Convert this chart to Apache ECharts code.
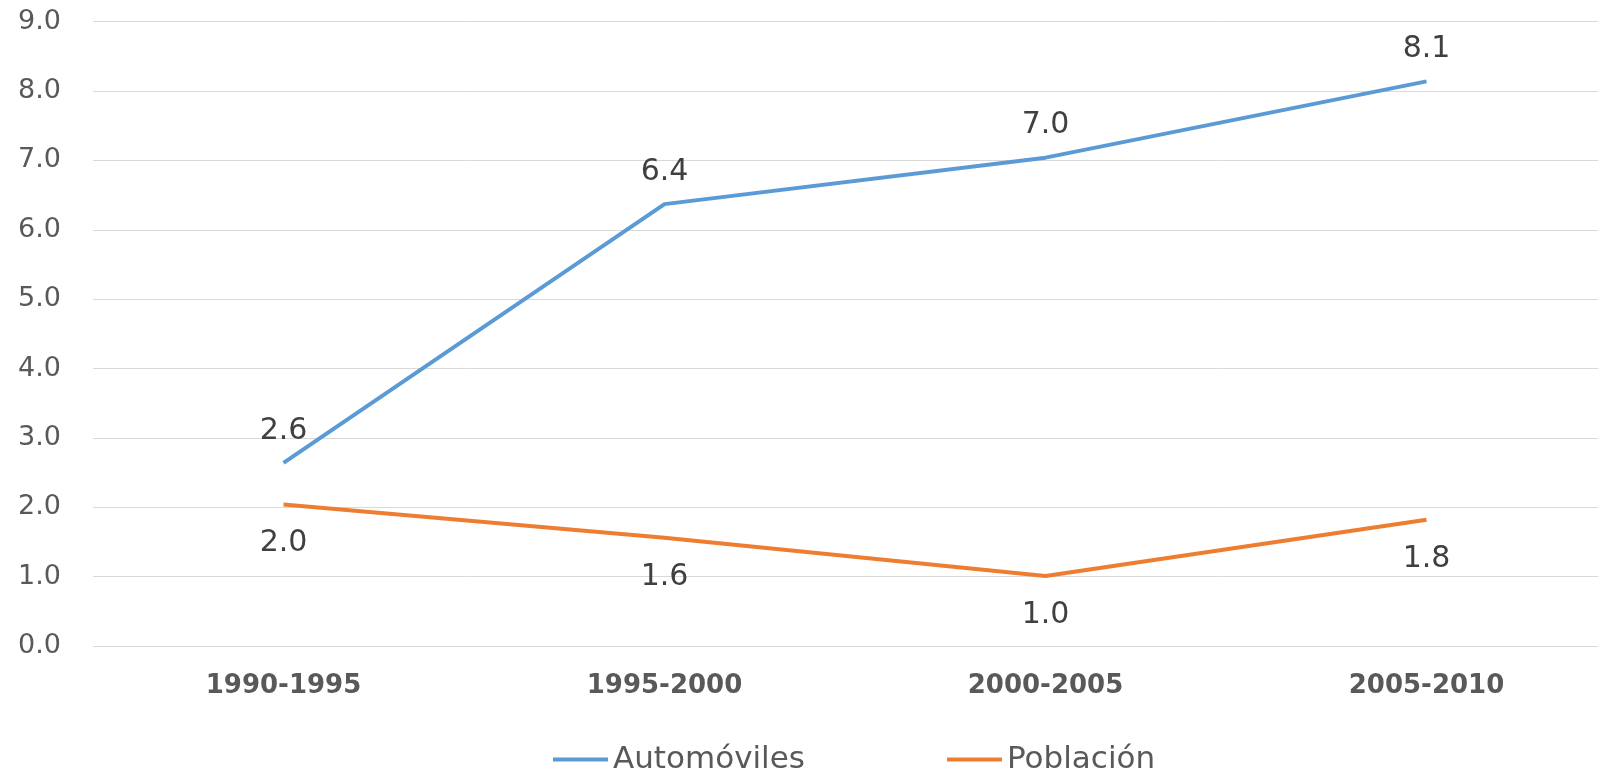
<!DOCTYPE html>
<html>
<head>
<meta charset="utf-8">
<script src="https://cdn.jsdelivr.net/npm/echarts@6/dist/echarts.min.js"></script>
<style>html,body{margin:0;padding:0;background:#fff;}#c{width:1598px;height:772px;}</style>
</head>
<body>
<div id="c"></div>
<script>
const categories = ['1990-1995', '1995-2000', '2000-2005', '2005-2010'];
const automoviles = [2.64, 6.37, 7.04, 8.14];
const poblacion = [2.04, 1.56, 1.01, 1.82];
const seriesNames = ['Automóviles', 'Población'];

const chart = echarts.init(document.getElementById('c'));
const fmt = p => p.value.toFixed(1);
const legendBase = {
  top: 739,
  itemWidth: 55, itemHeight: 4,
  icon: 'rect',
  textStyle: { fontFamily: 'DejaVu Sans', fontSize: 31, color: '#595959' }
};
chart.setOption({
  animation: false,
  backgroundColor: '#fff',
  grid: { left: 93, top: 21.7, width: 1524, height: 624.3, outerBoundsMode: 'none', containLabel: false },
  legend: [
    Object.assign({}, legendBase, { left: 548, data: [seriesNames[0]] }),
    Object.assign({}, legendBase, { left: 942, data: [seriesNames[1]] })
  ],
  xAxis: {
    type: 'category',
    data: categories,
    boundaryGap: true,
    axisLine: { show: false },
    axisTick: { show: false },
    axisLabel: { margin: 27, fontFamily: 'DejaVu Sans', fontWeight: 'bold', fontSize: 26, color: '#595959' }
  },
  yAxis: {
    type: 'value', min: 0, max: 9, interval: 1,
    axisLine: { show: false }, axisTick: { show: false },
    splitLine: { lineStyle: { color: '#d9d9d9', width: 1 } },
    axisLabel: { margin: 32, fontFamily: 'DejaVu Sans', fontSize: 27, color: '#595959', formatter: v => v.toFixed(1) }
  },
  series: [
    {
      name: seriesNames[0], type: 'line', data: automoviles,
      symbol: 'circle', symbolSize: 0, showSymbol: true,
      lineStyle: { color: '#5B9BD5', width: 4 },
      itemStyle: { color: '#5B9BD5' },
      label: { show: true, position: 'top', distance: 17, formatter: fmt, fontFamily: 'DejaVu Sans', fontSize: 30, color: '#404040' }
    },
    {
      name: seriesNames[1], type: 'line', data: poblacion,
      symbol: 'circle', symbolSize: 0, showSymbol: true,
      lineStyle: { color: '#ED7D31', width: 4 },
      itemStyle: { color: '#ED7D31' },
      label: { show: true, position: 'bottom', distance: 24, formatter: fmt, fontFamily: 'DejaVu Sans', fontSize: 30, color: '#404040' }
    }
  ]
});
</script>
</body>
</html>
